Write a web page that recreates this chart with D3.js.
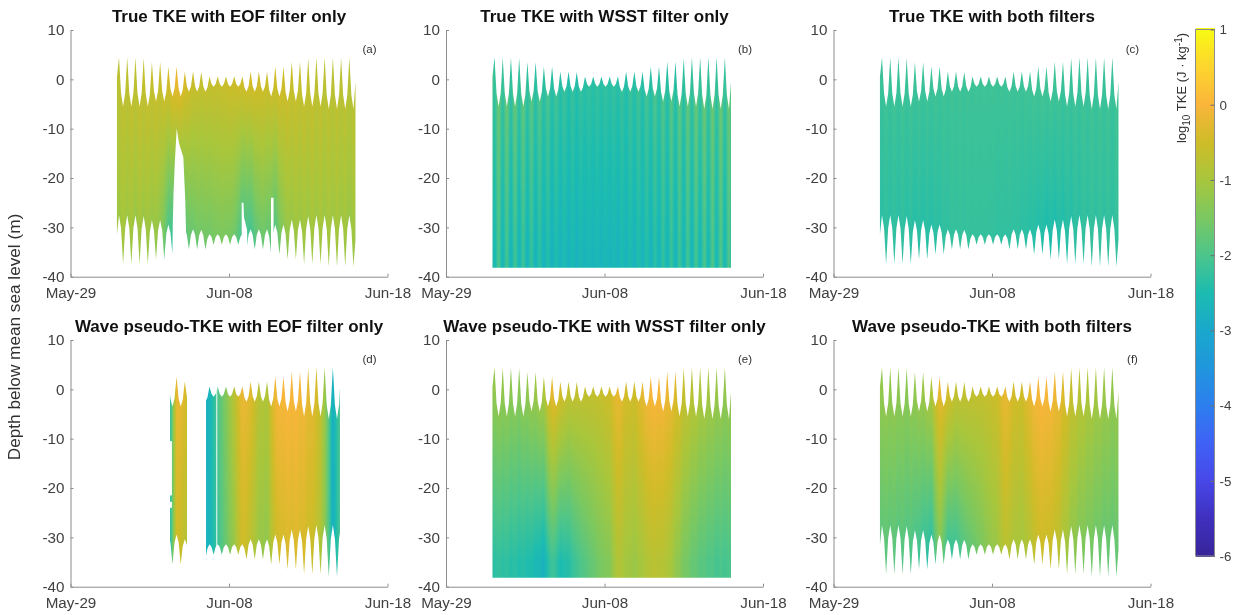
<!DOCTYPE html>
<html><head><meta charset="utf-8">
<script src="https://cdn.jsdelivr.net/npm/d3@7"></script>
<style>
html,body{margin:0;padding:0;background:#fff;overflow:hidden}
#wrap{position:relative;width:1240px;height:615px}
canvas{position:absolute;left:0;top:0;filter:blur(0.45px)}
svg{position:absolute;left:0;top:0}
text{font-family:"Liberation Sans",Arial,sans-serif}
</style></head><body><div id="wrap"><canvas id="c" width="1240" height="615"></canvas><svg id="s" width="1240" height="615"></svg></div>
<script>
// ---- data ----
const tickLabelsX = ["May-29","Jun-08","Jun-18"];
const depthTicks = [10,0,-10,-20,-30,-40];
const cbarTicks = [1,0,-1,-2,-3,-4,-5,-6];
const cmapStops = [-6,-5.5,-5,-4.5,-4,-3.5,-3,-2.5,-2,-1.5,-1,-0.5,0,0.5,1];
const cmapColors = ["#38259a","#3f30bf","#4748e8","#3f62f5","#2d7fef","#2096dc","#1aa8cc","#1cbcb0","#4dc58b","#7bc860","#a8c63c","#cfbc28","#fab53a","#fed52e","#f8fa13"];
const firstStartDay = 2.93, lastEndDay = 17.98, firstPeakDay = 3.06, tidePeriod = 0.519;
const surfaceStart = 0.5, surfaceEnd = -0.5, toothWaist = 0.27;
const peaks = [4.5,4.5,4.5,4.3,3.5,3.5,2.6,2.6,1.6,1.6,1.5,0.6,0.6,0.6,0.6,0.6,1.6,1.6,1.6,2.6,2.6,3.6,3.6,4.3,4.5,4.5,4.5,4.5,4.5];
const troughs = [-5.5,-5.5,-5.5,-5.5,-4.5,-4.5,-3.5,-3.5,-2.5,-2.5,-2.5,-1.5,-1.5,-1.5,-1.5,-2.5,-2.5,-2.5,-3.5,-3.5,-4.5,-4.5,-5.5,-5.5,-5.5,-6,-6,-6,-6];
const columnThickness = 32, flatBottom = -38.2, shadingDepth = 35;

const aTop = [-0.7,-0.65,-0.65,-0.6,-0.6,-0.55,-0.4,-0.1,-0.35,-0.55,-0.6,-0.6,-0.6,-0.55,-0.5,-0.45,-0.4,-0.45,-0.5,-0.45,-0.45,-0.55,-0.6,-0.6,-0.65,-0.7,-0.7,-0.7,-0.75];
const aBot = [-1.15,-1.15,-1.2,-1.2,-1.25,-1.35,-2.2,-2.6,-2,-1.8,-1.7,-1.7,-1.6,-1.6,-1.7,-2.3,-2.3,-1.8,-1.8,-2.1,-1.4,-1.25,-1.2,-1.2,-1.15,-1.15,-1.15,-1.15,-1.2];
const bTop = [-1.95,-1.95,-2,-2,-2.05,-2.1,-2.15,-2.2,-2.25,-2.3,-2.3,-2.3,-2.3,-2.3,-2.3,-2.3,-2.3,-2.25,-2.25,-2.2,-2.15,-2.15,-2.1,-2.05,-2,-1.95,-1.95,-1.95,-1.95];
const bBot = [-2.3,-2.35,-2.4,-2.4,-2.45,-2.5,-2.55,-2.6,-2.6,-2.65,-2.65,-2.65,-2.65,-2.65,-2.65,-2.65,-2.6,-2.6,-2.55,-2.55,-2.5,-2.45,-2.45,-2.4,-2.4,-2.35,-2.3,-2.3,-2.3];
const cTop = [-2.15,-2.15,-2.15,-2.15,-2.15,-2.15,-2.15,-2.15,-2.15,-2.15,-2.15,-2.15,-2.15,-2.15,-2.15,-2.15,-2.15,-2.15,-2.12,-2.1,-2.1,-2.12,-2.15,-2.15,-2.15,-2.15,-2.15,-2.15,-2.15];
const cBot = [-2.35,-2.35,-2.35,-2.35,-2.4,-2.4,-2.4,-2.35,-2.3,-2.25,-2.25,-2.25,-2.25,-2.25,-2.3,-2.3,-2.3,-2.35,-2.4,-2.45,-2.5,-2.5,-2.45,-2.4,-2.35,-2.3,-2.3,-2.3,-2.3];
const dTop = [-1,-1,-1,-1,-1,-1,-3,-0.15,-0.35,-0.8,-2.9,-2.7,-2,-1.4,-0.8,-0.15,-0.3,-0.8,-0.9,-0.1,0,0,-0.05,-0.2,-0.35,-1.1,-2.8,-1.9,-1.9];
const dBot = [-1,-1,-1,-1,-1,-1,-3,-0.5,-0.8,-1.2,-2.8,-2.7,-2.2,-1.7,-1.2,-0.5,-0.8,-1.2,-1.3,-0.6,-0.45,-0.4,-0.4,-0.55,-0.7,-1.3,-2.8,-2,-2];
const eTop = [-1.2,-1.2,-1.25,-1.3,-1.2,-1.1,-0.9,-0.15,-0.4,-0.65,-0.65,-0.65,-0.65,-0.6,-0.5,-0.15,-0.45,-0.5,-0.2,0,0,-0.1,-0.3,-0.6,-0.75,-0.9,-1,-1.1,-1.2];
const eBot = [-2.3,-2.3,-2.35,-2.4,-2.45,-2.55,-2.75,-2.1,-2.5,-2.4,-2.1,-1.9,-1.7,-1.5,-1.4,-0.85,-1.05,-1.15,-1,-0.8,-0.8,-0.9,-1.2,-1.5,-1.7,-1.85,-1.95,-2.05,-2.05];
const fTop = [-1.2,-1.2,-1.25,-1.3,-1.2,-1.1,-0.9,-0.15,-0.4,-0.65,-0.65,-0.65,-0.65,-0.6,-0.5,-0.15,-0.45,-0.5,-0.2,0,0,-0.1,-0.3,-0.6,-0.75,-0.9,-1,-1.1,-1.2];
const fBot = [-1.9,-1.9,-1.95,-2,-2.1,-2.3,-2.5,-1.5,-2.35,-2.3,-2,-1.8,-1.6,-1.35,-1.2,-0.8,-1,-1.1,-0.9,-0.6,-0.6,-0.7,-1,-1.3,-1.5,-1.6,-1.7,-1.8,-1.8];

// gaps where the filter removed data: [day, depth] polygons
const gapsA = [
  [[6.40,-42],[6.45,-30],[6.50,-23],[6.59,-16.4],[6.70,-9.9],[6.85,-13],[7.12,-15.8],[7.24,-24.5],[7.29,-31],[7.35,-42]],
  [[10.80,-42],[10.80,-25],[10.91,-25],[10.95,-28],[11.14,-30.5],[11.2,-42]],
  [[12.65,-42],[12.65,-24],[12.81,-24],[12.81,-42]]
];
const gapsD = [
  [[2,-45],[2,12],[6.28,12],[6.28,-45]],
  [[6.27,-10.5],[6.40,-10.5],[6.40,-21.5],[6.27,-21.5]],
  [[6.27,-22.8],[6.40,-22.8],[6.40,-24],[6.27,-24]],
  [[7.35,-45],[7.35,12],[8.55,12],[8.55,-45]],
  [[9.20,-45],[9.20,12],[9.26,12],[9.26,-45]],
  [[17.0,-45],[17.0,12],[19,12],[19,-45]]
];

const panels = [
 {title:"True TKE with EOF filter only", tag:"(a)", col:0,row:0, top:aTop, bot:aBot, stripe:0.08, flat:false, gaps:gapsA},
 {title:"True TKE with WSST filter only", tag:"(b)", col:1,row:0, top:bTop, bot:bBot, stripe:0.34, flat:true, gaps:[]},
 {title:"True TKE with both filters", tag:"(c)", col:2,row:0, top:cTop, bot:cBot, stripe:0.06, flat:false, gaps:[]},
 {title:"Wave pseudo-TKE with EOF filter only", tag:"(d)", col:0,row:1, top:dTop, bot:dBot, stripe:0.05, flat:false, gaps:gapsD},
 {title:"Wave pseudo-TKE with WSST filter only", tag:"(e)", col:1,row:1, top:eTop, bot:eBot, stripe:0.05, flat:true, gaps:[]},
 {title:"Wave pseudo-TKE with both filters", tag:"(f)", col:2,row:1, top:fTop, bot:fBot, stripe:0.05, flat:false, gaps:[]}
];

// ---- layout ----
const colLeft = [70.5,446,833.5], axW = 317, rowTop = [30,340], axH = 246.7;
const t0 = new Date(2024,4,29), dayMs = 864e5;
const toDate = d => new Date(t0.getTime()+d*dayMs);
const xTicks = [0,10,20].map(toDate);
const cmap = d3.scaleLinear().domain(cmapStops).range(cmapColors).clamp(true);
const lut = d3.range(1401).map(k => d3.rgb(cmap(-6+k/200)));
const ctx = document.getElementById('c').getContext('2d');
const svg = d3.select('#s');

// knots of the free surface: start, peak, waist, trough, waist, peak ... end
// zb is the same surface seen by the lower edge, whose narrow spikes point down
const knots = [{d:firstStartDay,z:surfaceStart,zb:surfaceStart,i:0,ph:0}];
peaks.forEach((p,i)=>{
  const tr=troughs[i], nx=i+1<peaks.length?peaks[i+1]:surfaceEnd;
  const c=firstPeakDay+i*tidePeriod;
  knots.push({d:c,z:p,zb:p,i:i,ph:-1});
  knots.push({d:c+0.25*tidePeriod,z:tr+toothWaist*(p-tr),zb:tr+(1-toothWaist)*(p-tr),i:i+0.25,ph:0});
  knots.push({d:c+0.5*tidePeriod,z:tr,zb:tr,i:i+0.5,ph:1});
  if(i+1<peaks.length) knots.push({d:c+0.75*tidePeriod,z:tr+toothWaist*(nx-tr),zb:tr+(1-toothWaist)*(nx-tr),i:i+0.75,ph:0});
});
knots.push({d:lastEndDay,z:surfaceEnd,zb:surfaceEnd,i:28.8,ph:0});
const kd = knots.map(k=>k.d);
const phAt = d3.scaleLinear().domain(kd).range(knots.map(k=>k.ph)).clamp(true);
const idx = d3.scaleLinear().domain(kd).range(knots.map(k=>k.i)).clamp(true);

panels.forEach(p=>{
  const L=colLeft[p.col], T=rowTop[p.row];
  const x=d3.scaleTime().domain([toDate(0),toDate(20)]).range([L,L+axW]);
  const y=d3.scaleLinear().domain([-40,10]).range([T+axH,T]);
  const dayX=d=>x(toDate(d));
  const bottomOf=k=>p.flat?flatBottom:k.zb-columnThickness;
  const area=d3.area().x(k=>dayX(k.d)).y0(k=>y(bottomOf(k))).y1(k=>y(k.z)).curve(d3.curveLinear);
  const ip=(arr,i)=>{const a=Math.max(0,Math.min(arr.length-1,i));const f=Math.floor(a),g=Math.min(arr.length-1,f+1);return arr[f]+(arr[g]-arr[f])*(a-f);};
  // offscreen field
  const x0=Math.floor(dayX(firstStartDay))-1, x1=Math.ceil(dayX(lastEndDay))+1;
  const y0=Math.floor(y(6)), y1=Math.ceil(y(-39.5));
  const off=document.createElement('canvas'); off.width=x1-x0; off.height=y1-y0;
  const oc=off.getContext('2d'); const im=oc.createImageData(off.width,off.height);
  for(let px=x0;px<x1;px++){
    const d=(x.invert(px+0.5)-t0)/dayMs, i=idx(d), ph=phAt(d);
    const localRange=(ip(peaks,i)-ip(troughs,i))/10;
    const vt=ip(p.top,i), vb=ip(p.bot,i);
    for(let py=y0;py<y1;py++){
      const z=y.invert(py+0.5);
      const f=Math.max(0,Math.min(1,-z/shadingDepth));
      const v=vt+(vb-vt)*f+p.stripe*localRange*ph;
      const c=lut[Math.max(0,Math.min(1400,Math.round((v+6)*200)))];
      const o=((py-y0)*off.width+(px-x0))*4;
      im.data[o]=c.r;im.data[o+1]=c.g;im.data[o+2]=c.b;im.data[o+3]=255;
    }
  }
  oc.putImageData(im,0,0);
  ctx.save();
  ctx.beginPath();
  area.context(ctx)(knots);
  ctx.clip();
  ctx.drawImage(off,x0,y0);
  ctx.restore();
  ctx.fillStyle='#fff';
  p.gaps.forEach(g=>{
    ctx.beginPath();
    g.forEach((q,n)=>{const X=dayX(q[0]),Y=y(q[1]); n?ctx.lineTo(X,Y):ctx.moveTo(X,Y);});
    ctx.closePath();ctx.fill();
  });

  // axes
  const g=svg.append('g');
  const ax=g.append('g').attr('transform',`translate(0,${T+axH})`)
    .call(d3.axisBottom(x).tickValues(xTicks).tickFormat((d,i)=>tickLabelsX[i]).tickSize(-3).tickPadding(11).tickSizeOuter(0));
  const ay=g.append('g').attr('transform',`translate(${L},0)`)
    .call(d3.axisLeft(y).tickValues(depthTicks).tickFormat(d=>String(d)).tickSize(-3).tickPadding(6).tickSizeOuter(0));
  [ax,ay].forEach(a=>{
    a.selectAll('path,line').attr('stroke','#8c8c8c').attr('stroke-width',1);
    a.selectAll('text').attr('fill','#404040').style('font-size','15.2px');
  });
  g.append('text').attr('x',L+axW/2).attr('y',T-8.2).attr('text-anchor','middle')
    .style('font-weight','700').style('font-size','17px').attr('fill','#111').text(p.title);
  g.append('text').attr('x',L+axW-18).attr('y',T+23).attr('text-anchor','middle')
    .style('font-size','11.5px').attr('fill','#303030').text(p.tag);
});

// y label
svg.append('text').attr('transform','translate(20,337) rotate(-90)').attr('text-anchor','middle')
  .style('font-size','17.2px').attr('fill','#303030').text('Depth below mean sea level (m)');

// colour bar
const cbL=1195.5, cbW=19, cy=d3.scaleLinear().domain([-6,1]).range([556,29.5]);
svg.append('g').attr('shape-rendering','crispEdges').selectAll('rect').data(d3.range(-6,1,0.0133)).join('rect')
  .attr('x',cbL).attr('width',cbW).attr('y',d=>Math.floor(cy(d))-1).attr('height',2).attr('fill',d=>cmap(d));
svg.append('rect').attr('x',cbL).attr('y',cy(1)).attr('width',cbW).attr('height',cy(-6)-cy(1))
  .attr('fill','none').attr('stroke','#8c8c8c').attr('stroke-width',1);
const cba=svg.append('g').attr('transform',`translate(${cbL+cbW},0)`)
  .call(d3.axisRight(cy).tickValues(cbarTicks).tickFormat(d=>String(d)).tickSize(-4).tickPadding(5).tickSizeOuter(0));
cba.select('path').remove();
cba.selectAll('line').attr('stroke','#6f6f6f');
cba.selectAll('text').attr('fill','#404040').style('font-size','13.4px');
const cl=svg.append('text').attr('transform','translate(1186,88) rotate(-90)').attr('text-anchor','middle')
  .style('font-size','13px').attr('fill','#303030');
cl.append('tspan').text('log');
cl.append('tspan').attr('dy',3.5).style('font-size','10px').text('10');
cl.append('tspan').attr('dy',-3.5).text(' TKE (J · kg');
cl.append('tspan').attr('dy',-4).style('font-size','10px').text('-1');
cl.append('tspan').attr('dy',4).text(')');
</script></body></html>
